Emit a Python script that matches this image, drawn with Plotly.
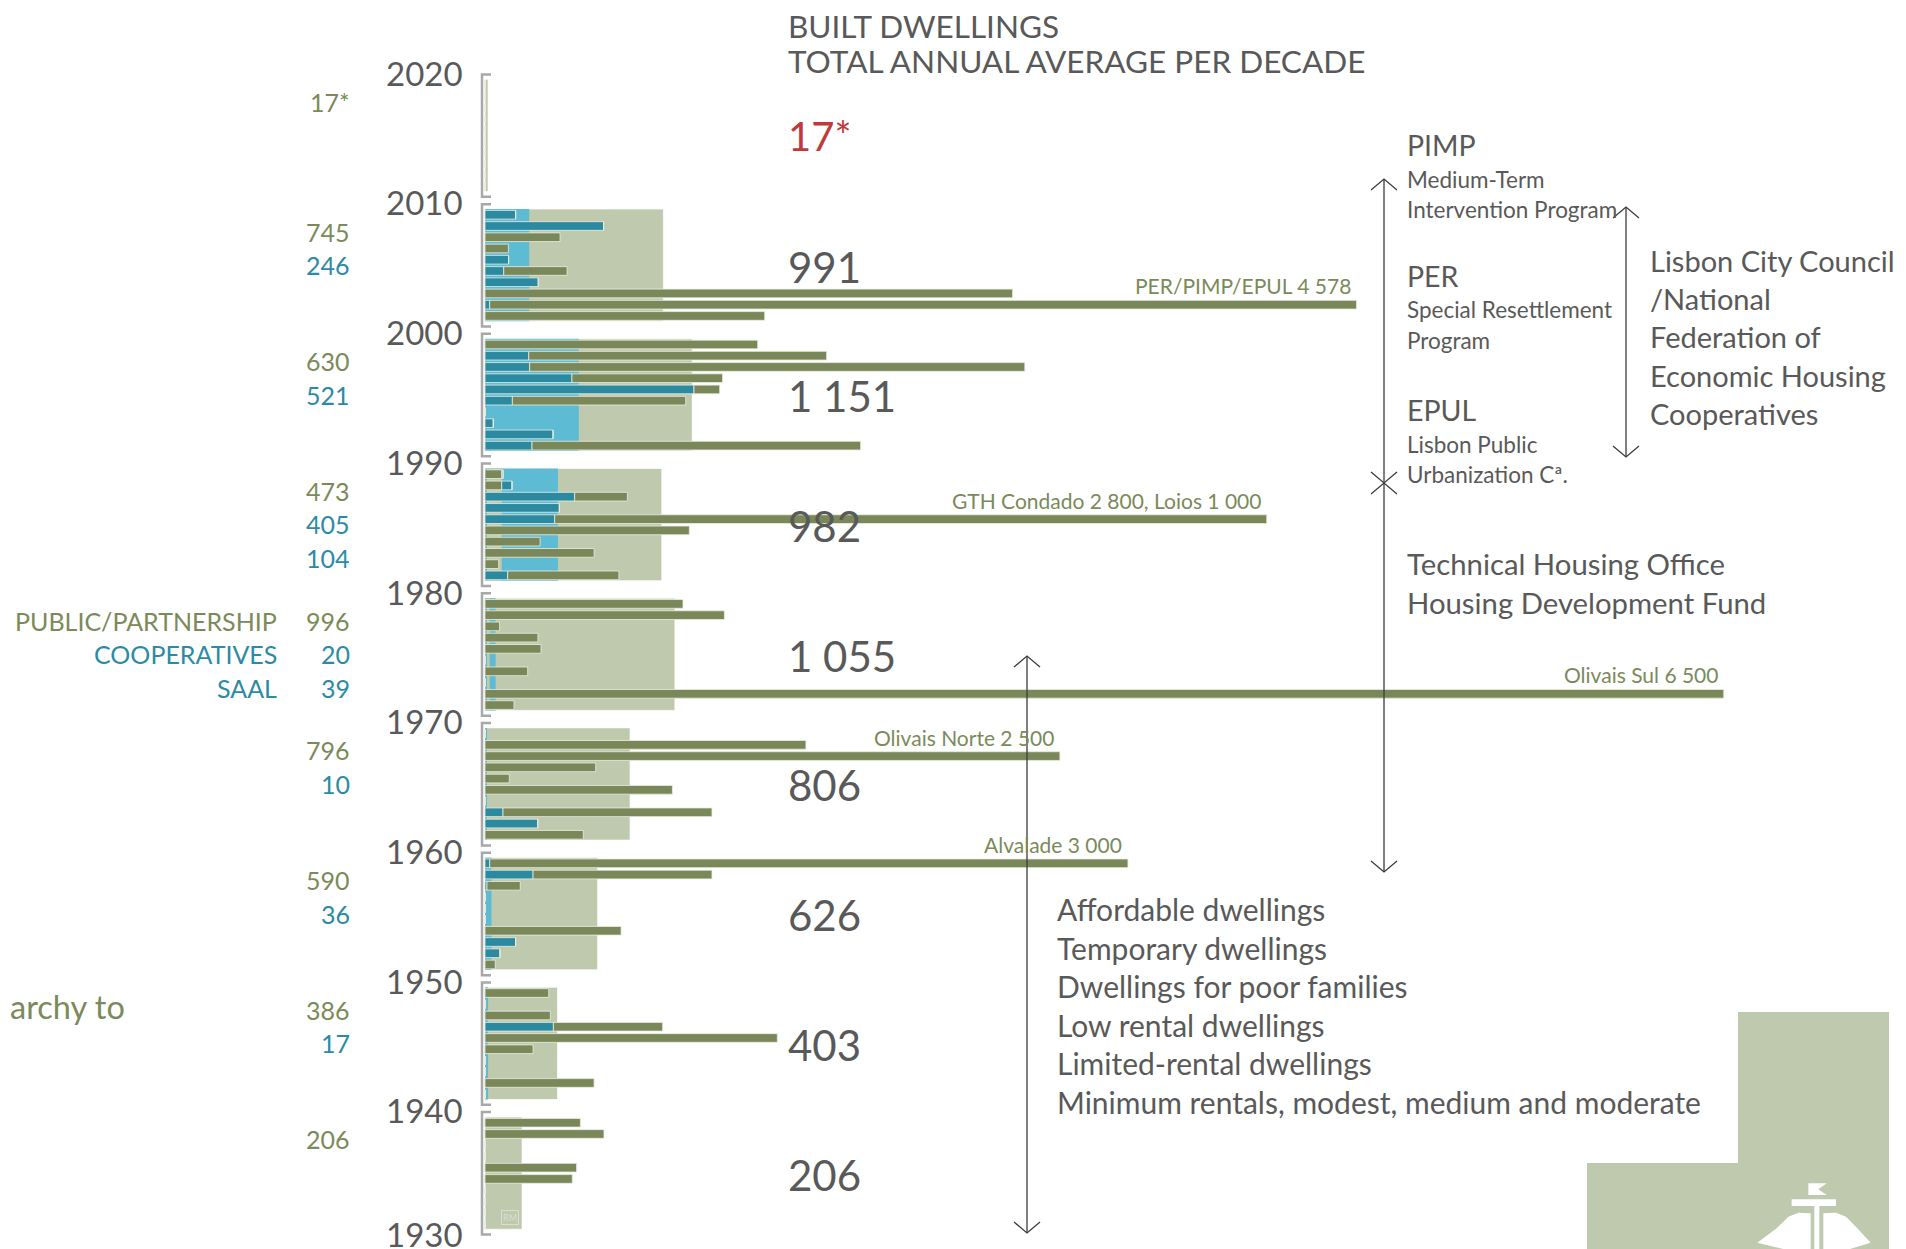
import plotly.graph_objects as go

W, H = 1906, 1249
OFF = 8  # the page body margin that the browser adds around the figure
FONT = "Lato"
GREEN, TEAL, GREY, RED = "#7B8A5A", "#2C8AA6", "#595959", "#C0393B"
BAR_GREEN, BAR_BLUE, BAND_BLUE, BAND_GREEN = "#7A8759", "#2B89A0", "#5DBBD4", "#BFC9AE"

# ---------------- data ----------------
decades = [2010, 2000, 1990, 1980, 1970, 1960, 1950, 1940, 1930]
decade_total = [17, 991, 1151, 982, 1055, 806, 626, 403, 206]
decade_label = ["17*", "991", "1 151", "982", "1 055", "806", "626", "403", "206"]
coop_band = [0, 246, 521, 405, 59, 10, 36, 17, 0]
saal_strip_base = [0, 0, 0, 11, 11, 0, 0, 0, 0]
saal_strip_width = [0, 0, 0, 82, 15, 0, 0, 0, 0]

# yearly bars, per decade, rows listed from the last year (top) to the first (bottom)
lead_green = [
    [0] * 10,
    [0] * 10,
    [0] * 10,
    [93, 93, 0, 0, 0, 0, 0, 0, 0, 0],
    [0] * 10,
    [0] * 10,
    [0] * 10,
    [0] * 10,
    [0] * 10,
]
coop_bars = [
    [0] * 10,
    [170, 659, 0, 0, 131, 104, 296, 0, 26, 0],
    [0, 243, 248, 483, 1161, 152, 0, 46, 378, 261],
    [7, 57, 498, 413, 387, 0, 0, 0, 0, 126],
    [0] * 10,
    [0, 0, 0, 0, 0, 0, 0, 100, 293, 0],
    [26, 267, 11, 0, 0, 0, 0, 170, 83, 0],
    [0, 0, 0, 380, 0, 0, 0, 0, 0, 0],
    [0] * 10,
]
public_bars = [
    [0] * 10,
    [0, 0, 417, 130, 0, 352, 0, 2931, 4816, 1554],
    [1515, 1655, 2751, 837, 143, 963, 0, 0, 0, 1826],
    [0, 0, 293, 0, 3956, 1135, 306, 606, 76, 618],
    [1100, 1330, 81, 294, 311, 0, 237, 0, 6882, 161],
    [0, 1783, 3194, 615, 135, 1041, 0, 1161, 0, 546],
    [3546, 994, 185, 0, 0, 0, 756, 0, 0, 57],
    [354, 0, 363, 607, 1624, 267, 0, 0, 606, 0],
    [530, 661, 0, 0, 509, 485, 0, 0, 0, 0],
]
left_numbers = [["17*"], ["745", "246"], ["630", "521"], ["473", "405", "104"],
                ["996", "20", "39"], ["796", "10"], ["590", "36"], ["386", "17"], ["206"]]
series_names = ["PUBLIC/PARTNERSHIP", "COOPERATIVES", "SAAL"]
bar_notes = [  # (decade, row from top, text)
    (2000, 8, "PER/PIMP/EPUL 4 578"),
    (1980, 4, "GTH Condado 2 800, Loios 1 000"),
    (1970, 8, "Olivais Sul 6 500"),
    (1960, 2, "Olivais Norte 2 500"),
    (1950, 0, "Alvalade 3 000"),
]
programs = [("PIMP", ["Medium-Term", "Intervention Program"]),
            ("PER", ["Special Resettlement", "Program"]),
            ("EPUL", ["Lisbon Public", "Urbanization Cª."])]
council_lines = ["Lisbon City Council", "/National", "Federation of", "Economic Housing", "Cooperatives"]
office_lines = ["Technical Housing Office", "Housing Development Fund"]
dwelling_types = ["Affordable dwellings", "Temporary dwellings", "Dwellings for poor families",
                  "Low rental dwellings", "Limited-rental dwellings",
                  "Minimum rentals, modest, medium and moderate"]
year_ticks = [2020, 2010, 2000, 1990, 1980, 1970, 1960, 1950, 1940, 1930]

# ---------------- scales ----------------
X0, KX = 485.0, 0.18          # pixel of zero, pixels per dwelling
Y2010, KY = 200.5, 12.971     # pixel of year 2010, pixels per year
FW, FH = W - OFF, H - OFF


def xv(px):
    return (px - X0) / KX


def yv(py):
    return 2010 - (py - Y2010) / KY


def px_(x):
    return (x - OFF) / FW


def py_(y):
    return 1 - (y - OFF) / FH


ROW0, PITCH, BARW = 1.10, 0.8667, 0.67
BAND_C, BAND_W = 5.015, 8.65

fig = go.Figure()

# decade bands
fig.add_trace(go.Bar(orientation="h", y=[d + BAND_C for d in decades], x=decade_total, base=0,
                     width=BAND_W, marker=dict(color=BAND_GREEN, line=dict(width=1, color="rgba(255,255,255,0.7)")),
                     hoverinfo="skip", showlegend=False))
fig.add_trace(go.Bar(orientation="h", y=[d + BAND_C for d in decades], x=coop_band, base=0,
                     width=BAND_W, marker=dict(color=BAND_BLUE, line=dict(width=0)),
                     hoverinfo="skip", showlegend=False))
fig.add_trace(go.Bar(orientation="h", y=[d + BAND_C for d in decades], x=saal_strip_width, base=saal_strip_base,
                     width=BAND_W, marker=dict(color=BAND_GREEN, line=dict(width=0)),
                     hoverinfo="skip", showlegend=False))

# yearly bars
ys, la, cb, pb = [], [], [], []
for d, a, c, p in zip(decades, lead_green, coop_bars, public_bars):
    for i in range(10):
        ys.append(d + ROW0 + (9 - i) * PITCH)
        la.append(a[i]); cb.append(c[i]); pb.append(p[i])
edge = dict(width=1, color="rgba(235,238,228,0.8)")
fig.add_trace(go.Bar(orientation="h", y=ys, x=la, base=0, width=BARW,
                     marker=dict(color=BAR_GREEN, line=edge), hoverinfo="skip", showlegend=False))
fig.add_trace(go.Bar(orientation="h", y=ys, x=cb, base=la, width=BARW,
                     marker=dict(color=BAR_BLUE, line=edge), hoverinfo="skip", showlegend=False))
fig.add_trace(go.Bar(orientation="h", y=ys, x=pb, base=[a + c for a, c in zip(la, cb)], width=BARW,
                     marker=dict(color=BAR_GREEN, line=edge), hoverinfo="skip", showlegend=False))

shapes, ann = [], []

# brackets per decade
for d in decades:
    shapes.append(dict(type="path", xref="x", yref="y",
                       path=f"M {xv(491)},{d + 9.72} L {xv(482)},{d + 9.72} L {xv(482)},{d + 0.28} L {xv(491)},{d + 0.28}",
                       line=dict(color="#A8A8A8", width=2.5)))


def text(t, x, y, size, color=GREY, xanchor="left", xref="paper", yref="paper"):
    ann.append(dict(text=t, x=x, y=y, xref=xref, yref=yref, xanchor=xanchor, yanchor="middle",
                    showarrow=False, font=dict(family=FONT, size=size, color=color)))


# year labels (the lowest one is lifted so it stays inside the picture)
for yr in year_ticks:
    yl = yr - 0.15 if yr > min(year_ticks) else yr + 0.3
    text(str(yr), px_(465), yl, 33, GREY, "right", "paper", "y")

# left numbers
for d, nums in zip(decades, left_numbers):
    for j, n in enumerate(nums):
        text(n, px_(352), d + 10 - (31 + 33.5 * j) / KY, 25, GREEN if j == 0 else TEAL, "right", "paper", "y")
for j, name in enumerate(series_names):
    text(name, px_(279), 1970 + 10 - (31 + 33.5 * j) / KY, 25, GREEN if j == 0 else TEAL, "right", "paper", "y")
text("archy to", 0, py_(1006), 32.5, GREEN, "left")

# decade totals
for d, lab in zip(decades, decade_label):
    if lab.endswith("*"):
        text(lab, px_(786), d + 4.95, 40, RED, "left", "paper", "y")
    else:
        text(lab, px_(786), d + 4.9, 42, GREY, "left", "paper", "y")

# notes on long bars
for d, row, t in bar_notes:
    k = decades.index(d)
    tot = lead_green[k][row] + coop_bars[k][row] + public_bars[k][row]
    ann.append(dict(text=t, x=tot, y=d + ROW0 + (9 - row) * PITCH + 1.47, xref="x", yref="y",
                    xanchor="right", yanchor="middle", xshift=-4, showarrow=False,
                    font=dict(family=FONT, size=21, color=GREEN)))

# titles
text("BUILT DWELLINGS", px_(786), py_(25.5), 31.5)
text("TOTAL ANNUAL AVERAGE PER DECADE", px_(786), py_(61), 31.5)

# programs
yy = [145, 276, 410]
for (head, subs), y0 in zip(programs, yy):
    text(head, px_(1405), py_(y0), 28.5)
    for j, s in enumerate(subs):
        text(s, px_(1405), py_(y0 + 34 + 31 * j), 22.5)
for j, s in enumerate(council_lines):
    text(s, px_(1648), py_(260 + 38.5 * j), 29)
for j, s in enumerate(office_lines):
    text(s, px_(1405), py_(563 + 40 * j), 29.3)
for j, s in enumerate(dwelling_types):
    text(s, px_(1055), py_(909 + 38.5 * j), 30)


# arrows
def arrow(x, y1, y2):
    X = px_(x)
    shapes.append(dict(type="line", xref="paper", yref="paper", x0=X, x1=X, y0=py_(y1), y1=py_(y2),
                       line=dict(color="#3C3C3C", width=1.3)))
    dx = 13 / FW
    shapes.append(dict(type="path", xref="paper", yref="paper",
                       path=f"M {X - dx},{py_(y1 + 11)} L {X},{py_(y1)} L {X + dx},{py_(y1 + 11)}",
                       line=dict(color="#3C3C3C", width=1.3)))
    shapes.append(dict(type="path", xref="paper", yref="paper",
                       path=f"M {X - dx},{py_(y2 - 11)} L {X},{py_(y2)} L {X + dx},{py_(y2 - 11)}",
                       line=dict(color="#3C3C3C", width=1.3)))


arrow(1384, 179, 483)
arrow(1384, 483, 872)
arrow(1626, 207, 457)
arrow(1027, 656, 1233)

# bottom-right block and emblem
shapes.append(dict(type="rect", xref="paper", yref="paper", x0=px_(1738), x1=px_(1889), y0=py_(1012), y1=0,
                   fillcolor=BAND_GREEN, line=dict(width=0), layer="below"))
shapes.append(dict(type="rect", xref="paper", yref="paper", x0=px_(1587), x1=px_(1889), y0=py_(1163), y1=0,
                   fillcolor=BAND_GREEN, line=dict(width=0), layer="below"))


def poly(pts):
    s = "M " + " L ".join(f"{px_(1550 + a / 3)},{py_(950 + b / 3)}" for a, b in pts) + " Z"
    shapes.append(dict(type="path", xref="paper", yref="paper", path=s, fillcolor="white", line=dict(width=0)))


poly([(775, 700), (830, 700), (805, 718), (830, 735), (775, 735)])
poly([(725, 748), (858, 748), (858, 768), (725, 768)])
poly([(793, 768), (808, 768), (808, 897), (793, 897)])
poly([(782, 790), (782, 897), (700, 897), (622, 878), (680, 835), (715, 800), (745, 788)])
poly([(820, 790), (820, 897), (900, 897), (962, 878), (922, 835), (888, 800), (858, 788)])

# small RM mark
ann.append(dict(text="RM", x=xv(510), y=yv(1217), xref="x", yref="y", showarrow=False,
                font=dict(family=FONT, size=9, color="#DADDD2"), bordercolor="#DADDD2", borderwidth=1,
                borderpad=1))

fig.update_layout(
    width=FW, height=FH, margin=dict(l=0, r=0, t=0, b=0),
    paper_bgcolor="white", plot_bgcolor="white", barmode="overlay",
    xaxis=dict(range=[xv(OFF), xv(W)], visible=False, fixedrange=True),
    yaxis=dict(range=[yv(H), yv(OFF)], visible=False, fixedrange=True),
    shapes=shapes, annotations=ann, showlegend=False,
)
fig.write_html("out.html")
